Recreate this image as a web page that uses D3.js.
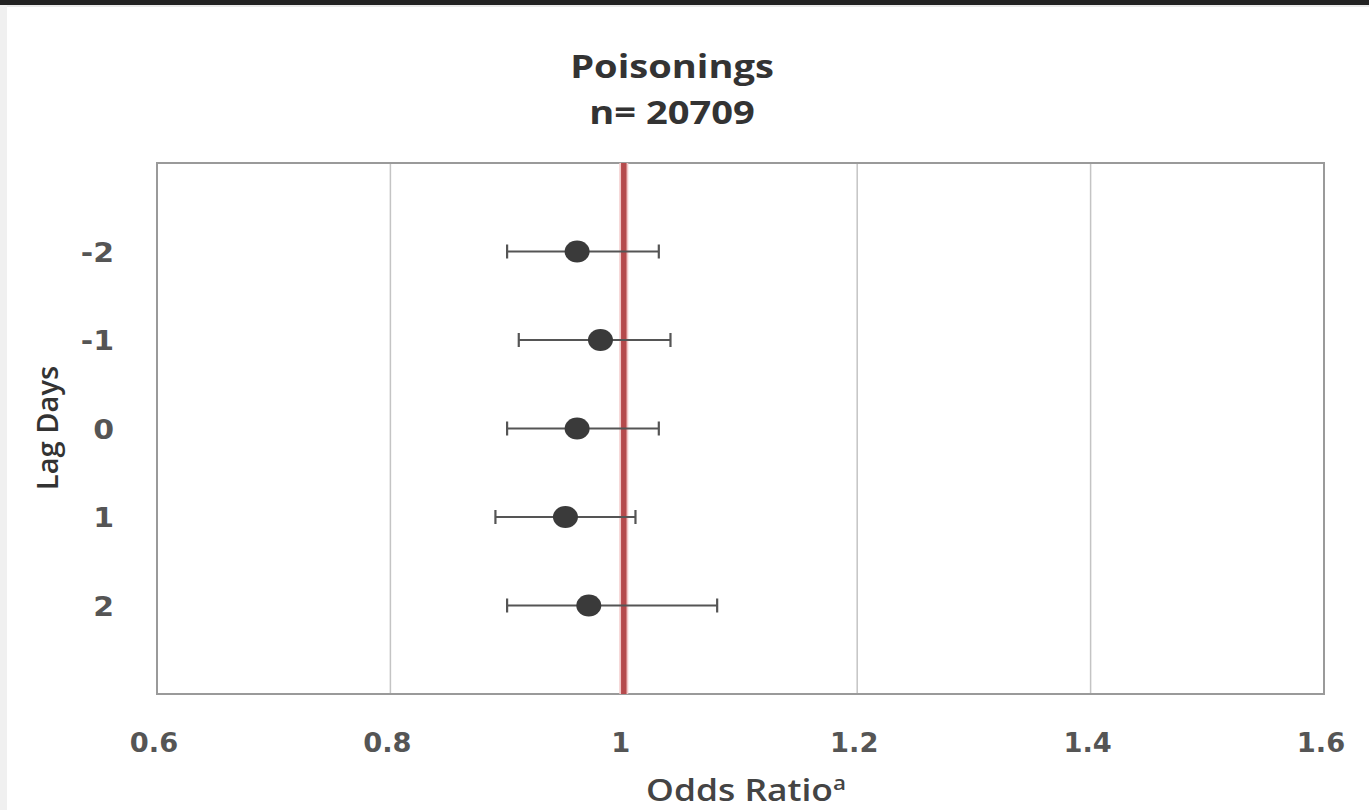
<!DOCTYPE html>
<html>
<head>
<meta charset="utf-8">
<script src="https://cdn.jsdelivr.net/npm/d3@7"></script>
<style>
  html, body { margin: 0; padding: 0; background: #fff; }
  svg { display: block; }
</style>
</head>
<body>
<svg id="chart" width="1369" height="810"></svg>
<script>
// Lag days and odds ratios with 95% confidence intervals
const lags = ["-2", "-1", "0", "1", "2"];
const oddsRatio = [0.96, 0.98, 0.96, 0.95, 0.97];
const ciLower = [0.90, 0.91, 0.90, 0.89, 0.90];
const ciUpper = [1.03, 1.04, 1.03, 1.01, 1.08];
const xTicks = [0.6, 0.8, 1, 1.2, 1.4, 1.6];
const titleLines = ["Poisonings", "n= 20709"];

const svg = d3.select("#chart");
const W = 1369, H = 810;
const m = { left: 157, right: 1324, top: 163, bottom: 694 };

// page frame: dark top band and light left edge
svg.append("rect").attr("x", 0).attr("y", 0).attr("width", W).attr("height", 5).attr("fill", "#222");
svg.append("rect").attr("x", 0).attr("y", 5).attr("width", W).attr("height", 2).attr("fill", "#eaeaea");
svg.append("rect").attr("x", 0).attr("y", 5).attr("width", 7).attr("height", H).attr("fill", "#f0f0f0");

const x = d3.scaleLinear().domain([0.6, 1.6]).range([m.left, m.right]);
const y = d3.scalePoint().domain(lags).range([m.top, m.bottom]).padding(1);

// vertical gridlines
svg.append("g").selectAll("line")
  .data(xTicks.filter(t => t !== 0.6 && t !== 1.6 && t !== 1))
  .join("line")
  .attr("x1", d => x(d)).attr("x2", d => x(d))
  .attr("y1", m.top).attr("y2", m.bottom)
  .attr("stroke", "#c4c4c4").attr("stroke-width", 1.5);

// plot frame
svg.append("rect")
  .attr("x", m.left).attr("y", m.top)
  .attr("width", m.right - m.left).attr("height", m.bottom - m.top)
  .attr("fill", "none").attr("stroke", "#9a9a9a").attr("stroke-width", 2);

// reference line at OR = 1
svg.append("line")
  .attr("x1", x(1)).attr("x2", x(1)).attr("y1", m.top).attr("y2", m.bottom)
  .attr("stroke", "#f2c9c9").attr("stroke-width", 9);
svg.append("line")
  .attr("x1", x(1)).attr("x2", x(1)).attr("y1", m.top).attr("y2", m.bottom)
  .attr("stroke", "#b54a4c").attr("stroke-width", 5.5);

const rows = lags.map((l, i) => ({ lag: l, or: oddsRatio[i], lo: ciLower[i], hi: ciUpper[i] }));

// confidence intervals
const eb = svg.append("g").attr("stroke", "#555").attr("stroke-width", 2.2).attr("fill", "none");
eb.selectAll("line.ci").data(rows).join("line").attr("class", "ci")
  .attr("x1", d => x(d.lo)).attr("x2", d => x(d.hi))
  .attr("y1", d => y(d.lag)).attr("y2", d => y(d.lag));
eb.selectAll("line.capL").data(rows).join("line").attr("class", "capL")
  .attr("x1", d => x(d.lo)).attr("x2", d => x(d.lo))
  .attr("y1", d => y(d.lag) - 7).attr("y2", d => y(d.lag) + 7);
eb.selectAll("line.capR").data(rows).join("line").attr("class", "capR")
  .attr("x1", d => x(d.hi)).attr("x2", d => x(d.hi))
  .attr("y1", d => y(d.lag) - 7).attr("y2", d => y(d.lag) + 7);

// point estimates
svg.append("g").selectAll("ellipse").data(rows).join("ellipse")
  .attr("cx", d => x(d.or)).attr("cy", d => y(d.lag))
  .attr("rx", 12.5).attr("ry", 11)
  .attr("fill", "#3a3a3a");

// x axis tick labels
svg.append("g").selectAll("text").data(xTicks).join("text")
  .attr("transform", d => `translate(${x(d) - 3},752) scale(1.05,1)`)
  .attr("text-anchor", "middle")
  .attr("font-family", "DejaVu Sans").attr("font-weight", "bold").attr("font-size", 26)
  .attr("fill", "#555")
  .text(d => d3.format("~g")(d));

// y axis tick labels
svg.append("g").selectAll("text").data(lags).join("text")
  .attr("transform", d => `translate(114,${y(d) + 10}) scale(1.15,1)`)
  .attr("text-anchor", "end")
  .attr("font-family", "DejaVu Sans").attr("font-weight", "bold").attr("font-size", 26)
  .attr("fill", "#555")
  .text(d => d);

// title
svg.append("g").selectAll("text").data(titleLines).join("text")
  .attr("transform", (d, i) => `translate(672,${78 + i * 46}) scale(1.19,1)`)
  .attr("text-anchor", "middle")
  .attr("font-family", "Open Sans").attr("font-weight", "bold").attr("font-size", 32)
  .attr("fill", "#333")
  .text(d => d);

// axis titles
const xt = svg.append("text")
  .attr("transform", "translate(746,801) scale(1.18,1)")
  .attr("text-anchor", "middle")
  .attr("font-family", "Open Sans").attr("font-weight", 600).attr("font-size", 30)
  .attr("fill", "#444");
xt.append("tspan").text("Odds Ratio");
xt.append("tspan").text("a").attr("font-size", 19).attr("dy", -11);

svg.append("text")
  .attr("transform", "translate(58,428) rotate(-90) scale(1.04,1)")
  .attr("text-anchor", "middle")
  .attr("font-family", "Open Sans").attr("font-weight", 600).attr("font-size", 28)
  .attr("fill", "#333")
  .text("Lag Days");
</script>
</body>
</html>
